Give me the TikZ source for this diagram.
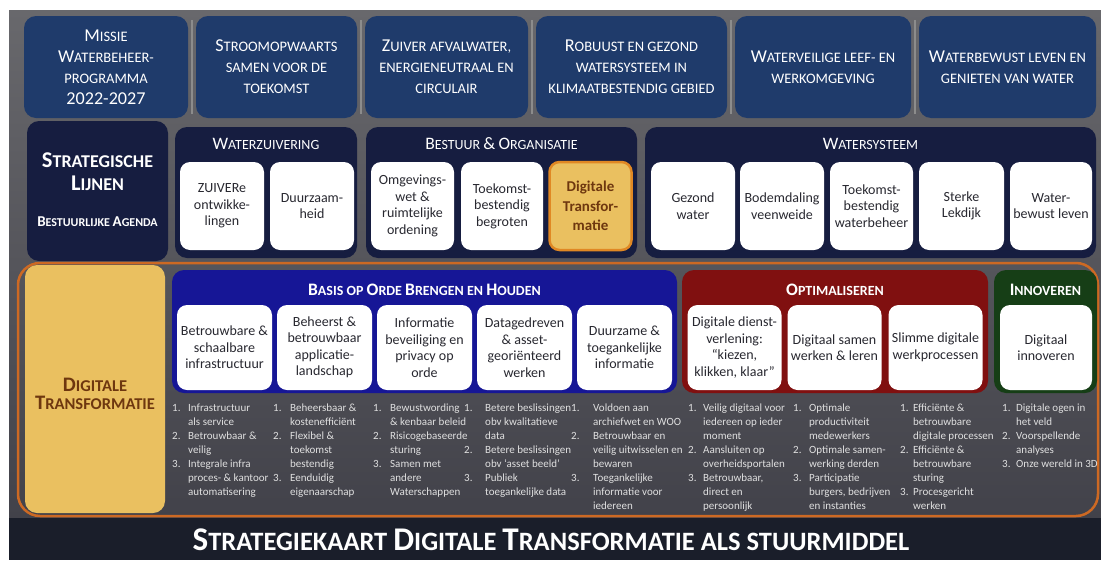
\documentclass[tikz,border=0pt]{standalone}
\usepackage{fontspec}
\setmainfont{Carlito}
\usepackage{graphicx}
\usepackage{tikz}

\definecolor{topblue}{RGB}{31,59,107}
\definecolor{navy}{RGB}{22,29,64}
\definecolor{royal}{RGB}{22,22,150}
\definecolor{darkred}{RGB}{128,16,16}
\definecolor{darkgreen}{RGB}{22,62,22}
\definecolor{gold}{RGB}{234,192,96}
\definecolor{goldline}{RGB}{224,136,36}
\definecolor{brown}{RGB}{110,55,15}
\definecolor{orangeline}{RGB}{205,105,35}
\definecolor{bgtop}{RGB}{104,104,108}
\definecolor{bgbot}{RGB}{66,66,74}
\definecolor{band}{RGB}{26,30,42}
\definecolor{listgray}{RGB}{224,224,224}
\definecolor{boxtext}{RGB}{40,40,48}
\definecolor{sepgray}{RGB}{140,140,140}

% small caps: capital at full size
\newcommand\U[1]{\scalebox{1.25}{#1}}

\tikzset{
  topbox/.style={fill=topblue, rounded corners=12pt, text=white, align=center,
    minimum height=102pt, inner sep=0pt, font=\fontsize{14.5}{21}\selectfont},
  grp/.style={rounded corners=12pt, inner sep=0pt},
  wbox/.style={fill=white, rounded corners=10pt, text=boxtext, align=center,
    inner sep=0pt, font=\fontsize{14}{16.5}\selectfont},
  hdr/.style={text=white, font=\fontsize{14}{17}\selectfont},
  kop/.style={text=white, font=\bfseries\fontsize{14}{17}\selectfont},
  lst/.style={anchor=north west, inner sep=0pt, text=listgray,
    font=\fontsize{11}{14}\selectfont},
}

\begin{document}
\begin{tikzpicture}[x=1pt,y=-1pt]
    \useasboundingbox (0,0) rectangle (1101,560);
    \fill[white] (0,0) rectangle (1101,560);
    \shade[top color=bgtop, bottom color=bgbot] (9,10) rectangle (1101,518);
    \fill[band] (9,518) rectangle (1101,560);

    % missie en doelen
    \foreach \x in {192,361,532,731,915}
        \draw[sepgray, line width=1.5pt] (\x,20) -- (\x,114);
    \node[topbox, minimum width=164pt] (m1) at (106,67) {\U{M}ISSIE\\\U{W}ATERBEHEER-\\PROGRAMMA\\\U{2022-2027}};
    \node[topbox, minimum width=161pt] (m2) at (276.5,67) {\U{S}TROOMOPWAARTS\\SAMEN VOOR DE\\TOEKOMST};
    \node[topbox, minimum width=163pt] (m3) at (446.5,67) {\U{Z}UIVER AFVALWATER,\\ENERGIENEUTRAAL EN\\CIRCULAIR};
    \node[topbox, minimum width=191pt] (m4) at (631.5,67) {\U{R}OBUUST EN GEZOND\\WATERSYSTEEM IN\\KLIMAATBESTENDIG GEBIED};
    \node[topbox, minimum width=176pt] (m5) at (823,67) {\U{W}ATERVEILIGE LEEF- EN\\WERKOMGEVING};
    \node[topbox, minimum width=177pt] (m6) at (1007.5,67) {\U{W}ATERBEWUST LEVEN EN\\GENIETEN VAN WATER};

    % strategische lijnen
    \node[grp, fill=navy, minimum width=141pt, minimum height=140pt] (sl) at (97.5,191) {};
    \node[text=white, align=center, font=\bfseries\fontsize{18}{23}\selectfont] (slt) at (97.5,172) {\U{S}TRATEGISCHE\\\U{L}IJNEN};
    \node[text=white, font=\bfseries\fontsize{12}{14}\selectfont] (ba) at (97.5,222) {\U{B}ESTUURLIJKE \U{A}GENDA};

    \node[grp, fill=navy, minimum width=182pt, minimum height=131pt] (wz) at (266,192.5) {};
    \node[grp, fill=navy, minimum width=271pt, minimum height=131pt] (bo) at (501.5,192.5) {};
    \node[grp, fill=navy, minimum width=451pt, minimum height=131pt] (ws) at (870.5,192.5) {};
    \node[hdr] (wzh) at (266,144) {\U{W}ATERZUIVERING};
    \node[hdr] (boh) at (501.5,144) {\U{B}ESTUUR \U{\&} \U{O}RGANISATIE};
    \node[hdr] (wsh) at (870.5,144) {\U{W}ATERSYSTEEM};

    \node[wbox, minimum width=84pt, minimum height=88pt] (zv) at (222,206) {ZUIVERe\\ontwikke-\\lingen};
    \node[wbox, minimum width=84pt, minimum height=88pt] (dz) at (312,206) {Duurzaam-\\heid};
    \node[wbox, minimum width=83pt, minimum height=88pt] (ow) at (412.5,206) {Omgevings-\\wet \&\\ruimtelijke\\ordening};
    \node[wbox, minimum width=82pt, minimum height=88pt] (tb) at (502,206) {Toekomst-\\bestendig\\begroten};
    \node[wbox, fill=gold, draw=goldline, line width=2.5pt, text=brown, font=\bfseries\fontsize{15}{19.5}\selectfont,
        minimum width=82pt, minimum height=88pt] (dt) at (590.5,206) {Digitale\\Transfor-\\matie};
    \node[wbox, minimum width=84pt, minimum height=88pt] (gw) at (693,206) {Gezond\\water};
    \node[wbox, minimum width=84pt, minimum height=88pt] (bv) at (782,206) {Bodemdaling\\veenweide};
    \node[wbox, minimum width=83pt, minimum height=88pt] (tw) at (871.5,206) {Toekomst-\\bestendig\\waterbeheer};
    \node[wbox, minimum width=85pt, minimum height=88pt] (lk) at (961.5,206) {Sterke\\Lekdijk};
    \node[wbox, minimum width=82pt, minimum height=88pt] (wb) at (1051,206) {Water-\\bewust leven};

    % digitale transformatie
    \draw[orangeline, line width=2.5pt, rounded corners=22pt] (18,263) rectangle (1098,516);
    \node[grp, fill=gold, minimum width=140pt, minimum height=248pt] (dty) at (95,389) {};
    \node[text=brown, align=center, font=\bfseries\fontsize{16.5}{18}\selectfont] (dtt) at (95,394) {\U{D}IGITALE\\\U{T}RANSFORMATIE};

    \node[grp, fill=royal, minimum width=505pt, minimum height=123pt] (basis) at (424.5,331.5) {};
    \node[grp, fill=darkred, minimum width=306pt, minimum height=123pt] (opt) at (835,331.5) {};
    \node[grp, fill=darkgreen, minimum width=103pt, minimum height=123pt] (inn) at (1045.5,331.5) {};
    \node[kop] (basish) at (424.5,290) {\U{B}ASIS OP \U{O}RDE \U{B}RENGEN EN \U{H}OUDEN};
    \node[kop] (opth) at (835,290) {\U{O}PTIMALISEREN};
    \node[kop] (innh) at (1045.5,290) {\U{I}NNOVEREN};

    \node[wbox, minimum width=95pt, minimum height=85pt] (b1) at (224.5,347.5) {Betrouwbare \&\\schaalbare\\infrastructuur};
    \node[wbox, minimum width=95pt, minimum height=85pt] (b2) at (324.5,347.5) {Beheerst \&\\betrouwbaar\\applicatie-\\landschap};
    \node[wbox, minimum width=95pt, minimum height=85pt] (b3) at (424.5,347.5) {Informatie\\beveiliging en\\privacy op\\orde};
    \node[wbox, minimum width=95pt, minimum height=85pt] (b4) at (524.5,347.5) {Datagedreven\\\& asset-\\georiënteerd\\werken};
    \node[wbox, minimum width=95pt, minimum height=85pt] (b5) at (624.5,347.5) {Duurzame \&\\toegankelijke\\informatie};
    \node[wbox, minimum width=94pt, minimum height=85pt] (o1) at (734.5,347.5) {Digitale dienst-\\verlening:\\“kiezen,\\klikken, klaar”};
    \node[wbox, minimum width=94pt, minimum height=85pt] (o2) at (834.5,347.5) {Digitaal samen\\werken \& leren};
    \node[wbox, minimum width=94pt, minimum height=85pt] (o3) at (935.5,347.5) {Slimme digitale\\werkprocessen};
    \node[wbox, minimum width=92pt, minimum height=85pt] (i1) at (1046,347.5) {Digitaal\\innoveren};

    % doelen per thema
    \node[lst] (l1) at (172,401) {\begin{tabular}{@{}p{16pt}@{}l@{}}
        1.&Infrastructuur\\&als service\\2.&Betrouwbaar \&\\&veilig\\
        3.&Integrale infra\\&proces- \& kantoor\\&automatisering\end{tabular}};
    \node[lst] (l2) at (273,401) {\begin{tabular}{@{}p{17pt}@{}l@{}}
        1.&Beheersbaar \&\\&kostenefficiënt\\2.&Flexibel \&\\&toekomst\\&bestendig\\
        3.&Eenduidig\\&eigenaarschap\end{tabular}};
    \node[lst] (l3) at (373,401) {\begin{tabular}{@{}p{17pt}@{}l@{}}
        1.&Bewustwording\\&\& kenbaar beleid\\2.&Risicogebaseerde\\&sturing\\
        3.&Samen met\\&andere\\&Waterschappen\end{tabular}};
    \node[lst] (l4) at (464,401) {\begin{tabular}{@{}p{21pt}@{}l@{}}
        1.&Betere beslissingen\\&obv kwalitatieve\\&data\\2.&Betere beslissingen\\
        &obv ‘asset beeld’\\3.&Publiek\\&toegankelijke data\end{tabular}};
    \node[lst] (l5) at (571,401) {\begin{tabular}{@{}p{22pt}@{}l@{}}
        1.&Voldoen aan\\&archiefwet en WOO\\2.&Betrouwbaar en\\&veilig uitwisselen en\\
        &bewaren\\3.&Toegankelijke\\&informatie voor\\&iedereen\end{tabular}};
    \node[lst] (l6) at (688,401) {\begin{tabular}{@{}p{15pt}@{}l@{}}
        1.&Veilig digitaal voor\\&iedereen op ieder\\&moment\\2.&Aansluiten op\\
        &overheidsportalen\\3.&Betrouwbaar,\\&direct en\\&persoonlijk\end{tabular}};
    \node[lst] (l7) at (793,401) {\begin{tabular}{@{}p{16pt}@{}l@{}}
        1.&Optimale\\&productiviteit\\&medewerkers\\2.&Optimale samen-\\
        &werking derden\\3.&Participatie\\&burgers, bedrijven\\&en instanties\end{tabular}};
    \node[lst] (l8) at (900,401) {\begin{tabular}{@{}p{13pt}@{}l@{}}
        1.&Efficiënte \&\\&betrouwbare\\&digitale processen\\2.&Efficiënte \&\\
        &betrouwbare\\&sturing\\3.&Procesgericht\\&werken\end{tabular}};
    \node[lst] (l9) at (1002,401) {\begin{tabular}{@{}p{14pt}@{}l@{}}
        1.&Digitale ogen in\\&het veld\\2.&Voorspellende\\&analyses\\
        3.&Onze wereld in 3D\end{tabular}};

    \node[text=white, font=\bfseries\fontsize{26.5}{30}\selectfont] (titel) at (551,540) {\U{S}TRATEGIEKAART \U{D}IGITALE \U{T}RANSFORMATIE ALS STUURMIDDEL};
\end{tikzpicture}
\end{document}
